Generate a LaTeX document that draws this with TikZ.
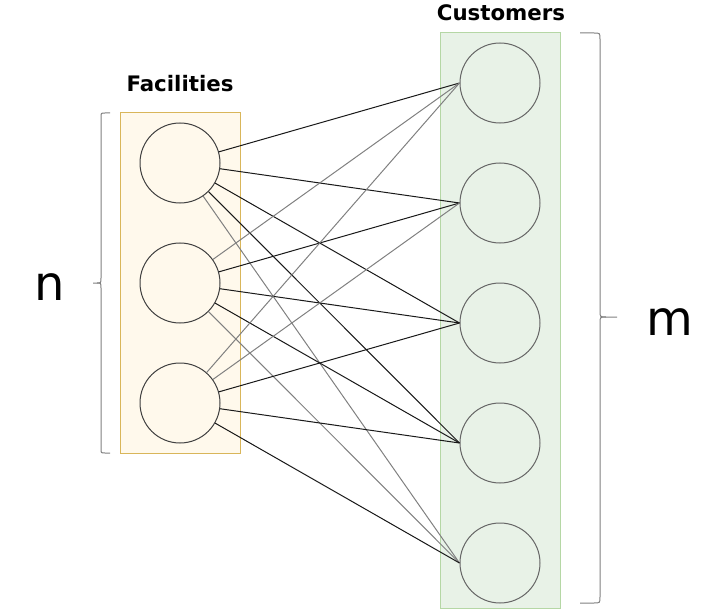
\documentclass[tikz,border=0pt]{standalone}
\usepackage{fontspec}
\setmainfont{DejaVu Sans}
\usepackage{xcolor}
\usepackage{tikz}
\usetikzlibrary{positioning}

\definecolor{facfill}{HTML}{FFF9EC}
\definecolor{facline}{HTML}{D9B65A}
\definecolor{custfill}{HTML}{E8F2E7}
\definecolor{custline}{HTML}{B5D7A5}

\begin{document}
\begin{tikzpicture}[x=0.75pt, y=-0.75pt, line width=0.75pt, inner sep=0pt, node distance=90pt]
\tikzstyle{facbox}=[draw=facline, fill=facfill, minimum width=90pt, minimum height=255pt]
\tikzstyle{custbox}=[draw=custline, fill=custfill, minimum width=90pt, minimum height=431.25pt]
\tikzstyle{fac}=[circle, draw=black!75, minimum size=60pt]
\tikzstyle{cust}=[circle, draw=black!60, minimum size=60pt]
\tikzstyle{dark}=[draw=black!90]
\tikzstyle{light}=[draw=black!50]
\tikzstyle{brace}=[draw=black!50]
\useasboundingbox (0,0) rectangle (722,610);

% boxes
\node[facbox] (facs) at (180,283) {};
\node[custbox] (custs) at (500,320.5) {};
\node[anchor=base, font=\bfseries\fontsize{16}{19}\selectfont] (factitle) at (180,92) {Facilities};
\node[anchor=base, font=\bfseries\fontsize{16}{19}\selectfont] (custtitle) at (501,21) {Customers};

% facilities
\node[fac] (f1) at (180,163) {};
\node[fac] (f2) [below of=f1] {};
\node[fac] (f3) [below of=f2] {};

% customers
\node[cust] (c1) at (500,83) {};
\node[cust] (c2) [below of=c1] {};
\node[cust] (c3) [below of=c2] {};
\node[cust] (c4) [below of=c3] {};
\node[cust] (c5) [below of=c4] {};

\path
(f1) edge[dark] (c1.west)
(f1) edge[dark] (c2.west)
(f1) edge[dark] (c3.west)
(f1) edge[dark] (c4.west)
(f1) edge[light] (c5.west)

(f2) edge[light] (c1.west)
(f2) edge[dark] (c2.west)
(f2) edge[dark] (c3.west)
(f2) edge[dark] (c4.west)
(f2) edge[light] (c5.west)

(f3) edge[light] (c1.west)
(f3) edge[light] (c2.west)
(f3) edge[dark] (c3.west)
(f3) edge[dark] (c4.west)
(f3) edge[dark] (c5.west);

% braces
\draw[brace] (110,113) -- (105,113) .. controls (101,113) .. (101,117) -- (101,278)
  .. controls (101,283) .. (97,283) -- (93,283);
\draw[brace] (97,283) .. controls (101,283) .. (101,288) -- (101,449)
  .. controls (101,453) .. (105,453) -- (110,453);
\draw[brace] (580,33) -- (594,33) .. controls (600,33) .. (600,39) -- (600,311)
  .. controls (600,317) .. (606,317) -- (617,317);
\draw[brace] (606,317) .. controls (600,317) .. (600,323) -- (600,597)
  .. controls (600,603) .. (594,603) -- (580,603);

\node[font=\fontsize{36}{40}\selectfont] (n) at (50,287) {n};
\node[font=\fontsize{36}{40}\selectfont] (m) at (670,322) {m};
\end{tikzpicture}
\end{document}
